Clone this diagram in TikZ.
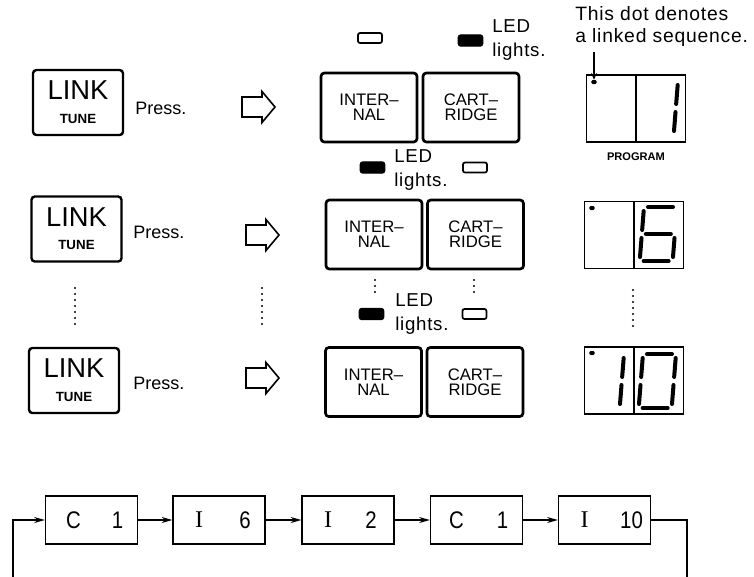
\documentclass[tikz,border=0pt]{standalone}
\usepackage{fontspec}
\setmainfont{Liberation Sans}
\newfontfamily\chainsans[FakeStretch=0.85]{Liberation Sans}
\newfontfamily\chainserif{Liberation Serif}
\newfontfamily\widesans[LetterSpace=4]{Liberation Sans}
\usetikzlibrary{arrows.meta,calc}
\newcommand\mysegA{\draw[seg] (4,0) -- (29,0);}
\newcommand\mysegB{\draw[seg] (33,4) -- (33,23);}
\newcommand\mysegC{\draw[seg] (33,31) -- (33,50);}
\newcommand\mysegD{\draw[seg] (4,54) -- (29,54);}
\newcommand\mysegE{\draw[seg] (0,31) -- (0,50);}
\newcommand\mysegF{\draw[seg] (0,4) -- (0,23);}
\newcommand\mysegG{\draw[seg] (4,27) -- (29,27);}
\newcommand\hollowarrowat[1]{\draw[hollowarrow] ($(#1)+(0,-10)$) -- ++(20,0) -- ++(0,-5.5) -- ++(13,15.5) -- ++(-13,15.5) -- ++(0,-5.5) -- ++(-20,0) -- cycle;}
\tikzset{
  linkbox/.style={draw, line width=1.8pt, rounded corners=2.5pt, minimum width=67.5pt, minimum height=48.75pt, inner sep=0pt},
  bigtxt/.style={font=\fontsize{20.5}{21}\selectfont, inner sep=0pt},
  tunetxt/.style={font=\fontsize{10}{10}\selectfont\bfseries, inner sep=0pt},
  presstxt/.style={font=\fontsize{13.5}{14}\selectfont, anchor=west, inner sep=0pt},
  selbox/.style={draw, line width=2pt, rounded corners=2.5pt, minimum width=72pt, minimum height=51.75pt, inner sep=0pt},
  seltxt/.style={align=center, font=\fontsize{12.5}{11}\selectfont, inner sep=0pt},
  hollowarrow/.style={line width=1.2pt, line join=miter},
  ledoff/.style={draw, line width=1.3pt, rounded corners=1.5pt, minimum width=18pt, minimum height=7.5pt, inner sep=0pt},
  ledon/.style={draw, fill=black, line width=0.8pt, rounded corners=2pt, minimum width=18.5pt, minimum height=8.5pt, inner sep=0pt},
  ledtxt/.style={align=left, anchor=west, font=\widesans\fontsize{14}{18}\selectfont, inner sep=0pt},
  disp/.style={draw, line width=1.2pt, minimum width=74pt, minimum height=50pt, inner sep=0pt},
  divider/.style={line width=1.2pt},
  dotmark/.style={fill=black, rounded corners=0.8pt, minimum width=3.8pt, minimum height=3pt, inner sep=0pt},
  seg/.style={line width=3pt, line cap=round},
  vdots/.style={line width=1.6pt, line cap=round, dash pattern=on 0pt off 4.5pt},
  chainbox/.style={draw, line width=1pt, minimum width=69pt, minimum height=36pt, inner sep=0pt},
  chainlbl/.style={font=\chainsans\fontsize{18}{18}\selectfont, inner sep=0pt},
  chainI/.style={font=\chainserif\fontsize{18}{18}\selectfont, inner sep=0pt},
  chainline/.style={line width=0.9pt},
  chainarr/.style={line width=0.9pt, -{Stealth[length=8pt,width=4.5pt]}},
  notetxt/.style={align=left, anchor=west, font=\widesans\fontsize{14.5}{16.5}\selectfont, inner sep=0pt},
}
\begin{document}
\begin{tikzpicture}[x=0.75pt,y=-0.75pt]
\useasboundingbox (0,0) rectangle (754,576);

% ---------- row 1 ----------
\node[linkbox] (lk1) at (78,102.5) {};
\node[bigtxt] (lk1a) at ($(lk1.center)+(0,-12)$) {LINK};
\node[tunetxt] (lk1b) at ($(lk1.center)+(0,16)$) {TUNE};
\node[presstxt] (pr1) at (135,108) {Press.};
\coordinate (ha1) at (242,107);
\hollowarrowat{ha1}
\node[selbox] (in1) at (369,107.5) {};
\node[seltxt] (in1t) at (in1.center) {INTER–\\NAL};
\node[selbox] (ca1) at (471,107.5) {};
\node[seltxt] (ca1t) at (ca1.center) {CART–\\RIDGE};
\node[ledoff] (lo1) at (370,38) {};
\node[ledon] (ln1) at (470.5,40.5) {};
\node[ledtxt] (lt1) at (492,40) {LED\\lights.};

% display 1
\node[disp] (d1) at (636,108.5) {};
\draw[divider] (d1.north) -- (d1.south);
\node[dotmark] (dot1) at (594,82) {};
\begin{scope}[shift={(645,81)}, xslant=0.08]
  \mysegB \mysegC
\end{scope}
\node[font=\fontsize{8.3}{9}\selectfont\bfseries, inner sep=0pt] (prog) at (636,157) {PROGRAM};
\node[notetxt] (note) at (575,26) {This dot denotes\\a linked sequence.};
\draw[line width=1.6pt, -{Stealth[length=5pt,width=4.5pt]}] (dot1 |- 0,52) coordinate (notefoot) -- (dot1.north);

% ---------- row 2 ----------
\node[ledon] (ln2) at (372.5,167.5) {};
\node[ledtxt] (lt2) at (394,170.5) {LED\\lights.};
\node[ledoff] (lo2) at (475,167.5) {};

\node[linkbox] (lk2) at (76.5,229) {};
\node[bigtxt] (lk2a) at ($(lk2.center)+(0,-12)$) {LINK};
\node[tunetxt] (lk2b) at ($(lk2.center)+(0,16)$) {TUNE};
\node[presstxt] (pr2) at (133,232) {Press.};
\coordinate (ha2) at (246,235);
\hollowarrowat{ha2}
\node[selbox] (in2) at (374,234.5) {};
\node[seltxt] (in2t) at (in2.center) {INTER–\\NAL};
\node[selbox] (ca2) at (475.5,234.5) {};
\node[seltxt] (ca2t) at (ca2.center) {CART–\\RIDGE};

\node[disp] (d2) at (634,235) {};
\draw[divider] (d2.north) -- (d2.south);
\node[dotmark] (dot2) at (592,208) {};
\begin{scope}[shift={(644,207)}, xslant=0.08]
  \mysegA \mysegC \mysegD \mysegE \mysegF \mysegG
\end{scope}

% ---------- dotted continuation ----------
\coordinate (v1a) at (75,288);  \coordinate (v1b) at (75,326);
\coordinate (v2a) at (262,288); \coordinate (v2b) at (262,326);
\coordinate (v3a) at (375,280); \coordinate (v3b) at (375,298);
\coordinate (v4a) at (474,280); \coordinate (v4b) at (474,298);
\coordinate (v5a) at (633,290); \coordinate (v5b) at (633,328);
\draw[vdots] (v1a) -- (v1b);
\draw[vdots] (v2a) -- (v2b);
\draw[vdots] (v3a) -- (v3b);
\draw[vdots] (v4a) -- (v4b);
\draw[vdots] (v5a) -- (v5b);

% ---------- row 3 ----------
\node[ledon] (ln3) at (371.5,314) {};
\node[ledtxt] (lt3) at (395,314) {LED\\lights.};
\node[ledoff] (lo3) at (474.5,314) {};

\node[linkbox] (lk3) at (74,380.5) {};
\node[bigtxt] (lk3a) at ($(lk3.center)+(0,-12)$) {LINK};
\node[tunetxt] (lk3b) at ($(lk3.center)+(0,16)$) {TUNE};
\node[presstxt] (pr3) at (133,383) {Press.};
\coordinate (ha3) at (246,378);
\hollowarrowat{ha3}
\node[selbox] (in3) at (373.5,382) {};
\node[seltxt] (in3t) at (in3.center) {INTER–\\NAL};
\node[selbox] (ca3) at (475,382) {};
\node[seltxt] (ca3t) at (ca3.center) {CART–\\RIDGE};

\node[disp] (d3) at (634,380.5) {};
\draw[divider] (d3.north) -- (d3.south);
\node[dotmark] (dot3) at (592,353) {};
\begin{scope}[shift={(591,354)}, xslant=0.08]
  \mysegB \mysegC
\end{scope}
\begin{scope}[shift={(643,354)}, xslant=0.08]
  \mysegA \mysegB \mysegC \mysegD \mysegE \mysegF
\end{scope}

% ---------- chain ----------
\node[chainbox] (c1) at (91.5,520) {};
\node[chainbox] (c2) at (219,520) {};
\node[chainbox] (c3) at (348,520) {};
\node[chainbox] (c4) at (476.5,520) {};
\node[chainbox] (c5) at (604.5,520) {};
\node[chainlbl] (c1l) at ($(c1.center)+(-18,0)$) {C};
\node[chainlbl] (c1r) at ($(c1.center)+(26,0)$) {1};
\node[chainI]   (c2l) at ($(c2.center)+(-20,0)$) {I};
\node[chainlbl] (c2r) at ($(c2.center)+(26,0)$) {6};
\node[chainI]   (c3l) at ($(c3.center)+(-20,0)$) {I};
\node[chainlbl] (c3r) at ($(c3.center)+(23,0)$) {2};
\node[chainlbl] (c4l) at ($(c4.center)+(-20,0)$) {C};
\node[chainlbl] (c4r) at ($(c4.center)+(26,0)$) {1};
\node[chainI]   (c5l) at ($(c5.center)+(-20,0)$) {I};
\node[chainlbl] (c5r) at ($(c5.center)+(27,0)$) {10};
\draw[chainarr] (c1) -- (c2);
\draw[chainarr] (c2) -- (c3);
\draw[chainarr] (c3) -- (c4);
\draw[chainarr] (c4) -- (c5);
\coordinate (fbL) at (13,580);
\coordinate (fbR) at (687,580);
\draw[chainarr] (fbL) |- (c1.west);
\draw[chainline] (c5.east) -| (fbR);
\end{tikzpicture}
\end{document}
